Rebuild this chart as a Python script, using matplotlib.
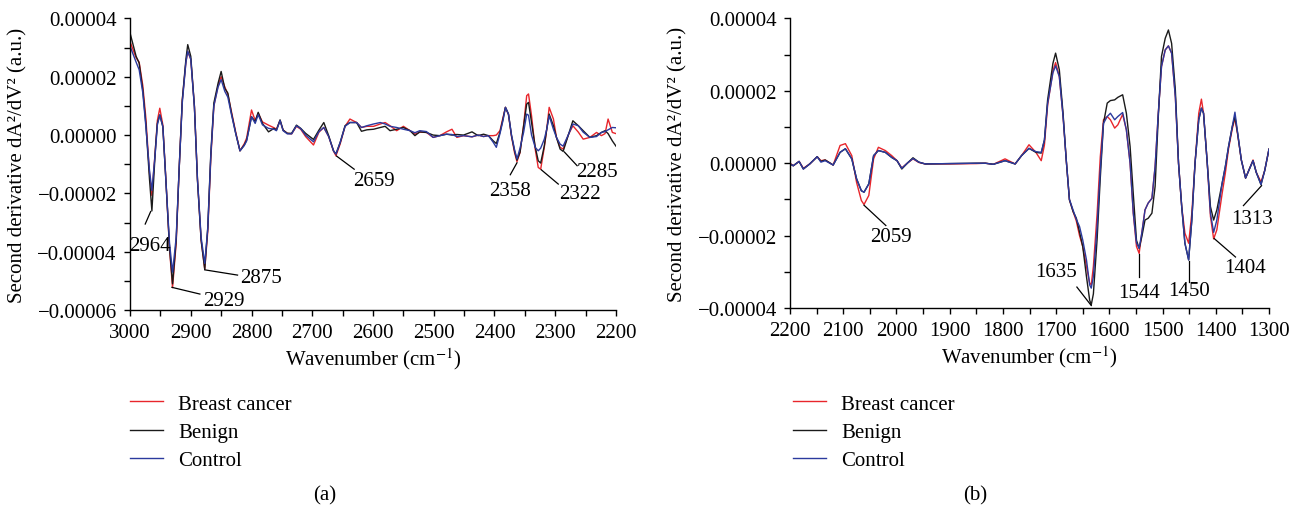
import matplotlib
matplotlib.use("Agg")
import matplotlib.pyplot as plt
from matplotlib.ticker import MultipleLocator, FuncFormatter

plt.rcParams['font.family'] = ['Liberation Serif', 'DejaVu Serif']
plt.rcParams['mathtext.fontset'] = 'stix'
plt.rcParams['font.size'] = 15

# second derivative values, in units of 1e-5
# (a) 3000-2200 cm-1
wn_a = [3000, 2990, 2985, 2979, 2974, 2968, 2964, 2958, 2955, 2951, 2946, 2941, 2935, 2930,
        2924, 2919, 2914, 2908, 2905, 2900, 2894, 2889, 2883, 2877, 2872, 2867, 2862, 2855,
        2850, 2844, 2839, 2833, 2826, 2819, 2812, 2808, 2800, 2794, 2789, 2782, 2772, 2763,
        2759, 2753, 2748, 2741, 2734, 2726, 2719, 2711, 2698, 2689, 2681, 2673, 2665, 2661,
        2654, 2646, 2638, 2627, 2619, 2610, 2599, 2588, 2580, 2572, 2561, 2550, 2539, 2531,
        2523, 2512, 2501, 2490, 2479, 2470, 2462, 2451, 2437, 2427, 2418, 2410, 2402, 2397,
        2391, 2386, 2382, 2377, 2372, 2367, 2363, 2358, 2352, 2347, 2344, 2339, 2333, 2328,
        2324, 2318, 2314, 2310, 2303, 2298, 2292, 2287, 2278, 2271, 2262, 2254, 2243, 2232,
        2224, 2218, 2213, 2206, 2200]
benign_a = [3.5, 2.7, 2.47, 1.55, 0.4, -1.5, -2.6, -0.4, 0.4, 0.69, 0.29, -1.55, -3.85, -5.1,
            -3.6, -1.1, 1.2, 2.6, 3.1, 2.7, 0.98, -1.55, -3.6, -4.6, -3.16, -0.63, 1.1, 1.78,
            2.18, 1.6, 1.44, 0.75, 0.06, -0.54, -0.34, -0.17, 0.63, 0.46, 0.78, 0.4, 0.11, 0.23,
            0.17, 0.52, 0.17, 0.06, 0.06, 0.34, 0.23, 0.06, -0.15, 0.17, 0.43, -0.02, -0.54, -0.65,
            -0.25, 0.32, 0.43, 0.43, 0.13, 0.18, 0.2, 0.26, 0.3, 0.15, 0.2, 0.26, 0.15, -0.02,
            0.11, 0.09, 0.0, -0.02, 0.03, 0.0, 0.02, 0.0, 0.11, -0.02, 0.03, -0.02, -0.2, -0.29,
            0.09, 0.55, 0.95, 0.72, -0.02, -0.54, -0.86, -0.59, 0.32, 1.06, 1.12, 0.43, -0.4, -0.88,
            -0.96, -0.37, 0.2, 0.72, 0.32, -0.08, -0.48, -0.56, 0.03, 0.49, 0.32, 0.15, -0.08, -0.02,
            0.09, 0.15, 0.05, -0.2, -0.38]
cancer_a = [3.2, 2.65, 2.5, 1.7, 0.6, -1.3, -2.07, -0.4, 0.5, 0.92, 0.35, -1.5, -3.9, -5.23,
            -3.7, -1.1, 1.2, 2.5, 2.87, 2.6, 1.0, -1.5, -3.6, -4.6, -3.3, -0.8, 1.0, 1.7,
            2.0, 1.65, 1.4, 0.8, 0.1, -0.54, -0.3, -0.1, 0.86, 0.5, 0.75, 0.45, 0.34, 0.25,
            0.2, 0.5, 0.17, 0.06, 0.04, 0.3, 0.2, -0.05, -0.34, 0.1, 0.26, -0.05, -0.55, -0.71,
            -0.3, 0.3, 0.55, 0.43, 0.26, 0.3, 0.3, 0.38, 0.43, 0.32, 0.15, 0.3, 0.15, 0.03,
            0.1, 0.09, -0.08, -0.02, 0.11, 0.2, -0.08, -0.02, -0.06, 0.0, -0.05, -0.02, -0.02, 0.0,
            0.15, 0.6, 0.95, 0.7, -0.05, -0.6, -0.91, -0.6, 0.35, 1.35, 1.41, 0.66, -0.48, -1.11,
            -1.17, -0.42, 0.2, 0.95, 0.55, -0.08, -0.42, -0.48, 0.03, 0.32, 0.1, -0.14, -0.08, 0.09,
            -0.02, 0.05, 0.55, 0.09, 0.05]
control_a = [3.05, 2.5, 2.24, 1.45, 0.3, -1.2, -1.9, -0.5, 0.35, 0.69, 0.29, -1.55, -3.7, -4.7,
             -3.5, -1.1, 1.1, 2.5, 2.87, 2.6, 0.95, -1.5, -3.5, -4.4, -3.2, -0.7, 1.0, 1.65,
             1.9, 1.5, 1.3, 0.7, 0.05, -0.54, -0.36, -0.2, 0.63, 0.4, 0.7, 0.35, 0.23, 0.2,
             0.15, 0.5, 0.15, 0.04, 0.04, 0.32, 0.22, 0.0, -0.23, 0.12, 0.26, -0.05, -0.54, -0.65,
             -0.25, 0.3, 0.43, 0.43, 0.26, 0.32, 0.38, 0.43, 0.38, 0.3, 0.26, 0.2, 0.15, 0.08,
             0.15, 0.12, -0.08, -0.02, 0.03, 0.02, -0.05, -0.02, -0.06, 0.0, -0.05, -0.02, -0.25, -0.42,
             0.05, 0.5, 0.95, 0.72, 0.0, -0.5, -0.82, -0.45, 0.1, 0.72, 0.68, 0.0, -0.42, -0.54,
             -0.45, -0.14, 0.2, 0.66, 0.2, -0.08, -0.31, -0.38, 0.03, 0.38, 0.32, 0.1, -0.08, -0.05,
             0.09, 0.12, 0.18, 0.26, 0.25]

# (b) 2200-1300 cm-1
wn_b = [2200, 2194, 2183, 2175, 2163, 2149, 2142, 2134, 2119, 2106, 2096, 2084, 2075, 2066,
        2061, 2052, 2043, 2034, 2021, 2009, 1999, 1990, 1979, 1969, 1958, 1946, 1900, 1850,
        1833, 1818, 1796, 1777, 1765, 1751, 1738, 1728, 1722, 1716, 1706, 1701, 1694, 1687,
        1681, 1675, 1668, 1662, 1656, 1650, 1643, 1637, 1634, 1630, 1623, 1617, 1611, 1604,
        1598, 1590, 1584, 1575, 1568, 1561, 1555, 1549, 1544, 1539, 1533, 1527, 1520, 1514,
        1508, 1502, 1495, 1489, 1483, 1476, 1470, 1464, 1458, 1451, 1445, 1439, 1432, 1427,
        1423, 1416, 1410, 1404, 1398, 1388, 1382, 1376, 1369, 1364, 1359, 1352, 1344, 1338,
        1330, 1324, 1315, 1308, 1300]
benign_b = [-0.02, -0.07, 0.05, -0.16, -0.02, 0.18, 0.05, 0.09, -0.05, 0.3, 0.4, 0.12, -0.43, -0.76,
            -0.8, -0.57, 0.21, 0.35, 0.3, 0.16, 0.07, -0.16, 0.01, 0.15, 0.03, -0.02, -0.01, 0.0,
            0.0, -0.03, 0.07, -0.02, 0.21, 0.41, 0.3, 0.28, 0.64, 1.75, 2.76, 3.04, 2.58, 1.38,
            0.09, -1.01, -1.34, -1.52, -1.9, -2.3, -3.13, -3.78, -3.91, -3.61, -2.1, -0.4, 1.1, 1.66,
            1.73, 1.75, 1.82, 1.89, 1.38, 0.46, -0.85, -2.13, -2.35, -2.03, -1.57, -1.52, -1.38, -0.64,
            1.29, 2.95, 3.45, 3.68, 3.31, 2.03, 0.0, -1.2, -2.21, -2.67, -1.57, 0.0, 1.2, 1.52,
            1.38, 0.0, -1.2, -1.57, -1.29, -0.55, -0.09, 0.46, 1.01, 1.29, 0.83, 0.09, -0.41, -0.2,
            0.07, -0.25, -0.59, -0.2, 0.39]
cancer_b = [0.0, -0.07, 0.05, -0.14, -0.02, 0.18, 0.07, 0.09, -0.05, 0.49, 0.54, 0.21, -0.53, -1.03,
            -1.14, -0.89, 0.12, 0.44, 0.35, 0.21, 0.07, -0.13, 0.01, 0.12, 0.02, -0.02, -0.02, -0.01,
            0.0, -0.03, 0.12, -0.02, 0.21, 0.51, 0.3, 0.07, 0.5, 1.6, 2.55, 2.78, 2.39, 1.3,
            0.09, -1.01, -1.34, -1.6, -2.0, -2.3, -2.85, -3.31, -3.36, -2.85, -1.4, 0.18, 1.2, 1.29,
            1.2, 0.97, 1.06, 1.35, 0.92, 0.0, -1.38, -2.3, -2.49, -1.93, -1.29, -1.1, -0.97, -0.09,
            1.38, 2.67, 3.13, 3.24, 3.04, 1.84, 0.0, -1.2, -1.93, -2.21, -1.38, 0.0, 1.38, 1.77,
            1.38, 0.0, -1.47, -2.09, -1.84, -0.83, -0.27, 0.4, 0.95, 1.24, 0.8, 0.09, -0.41, -0.2,
            0.09, -0.25, -0.52, -0.2, 0.39]
control_b = [-0.02, -0.07, 0.05, -0.16, -0.02, 0.18, 0.03, 0.07, -0.05, 0.3, 0.4, 0.12, -0.43, -0.76,
             -0.8, -0.57, 0.21, 0.35, 0.3, 0.16, 0.07, -0.14, 0.01, 0.13, 0.03, -0.02, -0.01, 0.0,
             0.0, -0.03, 0.07, -0.02, 0.21, 0.41, 0.32, 0.3, 0.64, 1.65, 2.5, 2.69, 2.39, 1.3,
             0.09, -1.0, -1.3, -1.55, -1.75, -2.12, -2.67, -3.36, -3.45, -3.13, -1.75, -0.18, 1.1, 1.29,
             1.38, 1.2, 1.29, 1.4, 0.92, 0.0, -1.38, -2.2, -2.35, -1.93, -1.29, -1.1, -0.97, -0.09,
             1.38, 2.67, 3.13, 3.24, 3.04, 1.84, 0.0, -1.2, -2.21, -2.67, -1.57, 0.0, 1.2, 1.52,
             1.38, 0.0, -1.38, -1.91, -1.57, -0.55, -0.09, 0.46, 1.01, 1.41, 0.85, 0.09, -0.41, -0.2,
             0.07, -0.25, -0.59, -0.2, 0.39]

# peak labels: text, peak (x, y), line end (x, y), text position (x, y)
labels_a = [("2964", 2966, -2.62, 2975, -3.05, 2967, -3.8),
            ("2929", 2931, -5.22, 2885, -5.45, 2846, -5.68),
            ("2875", 2877, -4.62, 2823, -4.8, 2785, -4.88),
            ("2659", 2660, -0.72, 2631, -1.17, 2599, -1.57),
            ("2358", 2363, -0.95, 2374, -1.36, 2374, -1.91),
            ("2322", 2323, -1.19, 2295, -1.68, 2259, -2.0),
            ("2285", 2285, -0.58, 2264, -1.05, 2231, -1.26)]
labels_b = [("2059", 2061, -1.16, 2020, -1.72, 2010, -2.02),
            ("1635", 1634, -3.93, 1661, -3.42, 1700, -3.0),
            ("1544", 1545, -2.5, 1545, -3.14, 1544, -3.56),
            ("1450", 1451, -2.7, 1451, -3.28, 1450, -3.51),
            ("1404", 1403, -2.08, 1363, -2.59, 1345, -2.87),
            ("1313", 1314, -0.62, 1348, -1.17, 1331, -1.52)]

series = ["Breast cancer", "Benign", "Control"]
colors = ["#e8252b", "#1a1a1a", "#2b3a9e"]
scale = 1e-5

fig = plt.figure(figsize=(12.99, 5.10), dpi=100)
ax1 = fig.add_axes([0.1001, 0.390, 0.3741, 0.572])
ax2 = fig.add_axes([0.6082, 0.394, 0.3687, 0.568])


def fmt(v, pos):
    if abs(v) < 1e-9:
        return "0.00000"
    return f"{v:.5f}".replace("-", "\u2212")


def style(ax, xlim, ylim):
    ax.set_xlim(*xlim)
    ax.set_ylim(*ylim)
    for s in ["top", "right"]:
        ax.spines[s].set_visible(False)
    for s in ["left", "bottom"]:
        ax.spines[s].set_linewidth(1.0)
    ax.xaxis.set_major_locator(MultipleLocator(100))
    ax.xaxis.set_minor_locator(MultipleLocator(50))
    ax.yaxis.set_major_locator(MultipleLocator(2e-5))
    ax.yaxis.set_minor_locator(MultipleLocator(1e-5))
    ax.yaxis.set_major_formatter(FuncFormatter(fmt))
    ax.tick_params(which="major", direction="out", length=4.5, width=1.0, pad=5, labelsize=15)
    ax.tick_params(which="minor", direction="out", length=4, width=1.0)
    ax.set_xlabel(r"Wavenumber (cm$^{-1}$)", fontsize=15, labelpad=2)
    ax.set_ylabel("Second derivative dA²/dV² (a.u.)", fontsize=15)


for ax, wn, data, labels in [(ax1, wn_a, [cancer_a, benign_a, control_a], labels_a),
                             (ax2, wn_b, [cancer_b, benign_b, control_b], labels_b)]:
    for name, vals, c in zip(series, data, colors):
        ax.plot(wn, [v * scale for v in vals], color=c, lw=1.0, label=name)
    for txt, px, py, lx, ly, tx, ty in labels:
        ax.plot([px, lx], [py * scale, ly * scale], color="black", lw=0.9)
        ax.text(tx, ty * scale, txt, ha="center", va="center", fontsize=15)

style(ax1, (3000, 2200), (-6e-5, 4e-5))
style(ax2, (2200, 1300), (-4e-5, 4e-5))
ax1.yaxis.set_label_coords(-0.212, 0.5)
ax2.yaxis.set_label_coords(-0.214, 0.5)

handles, names = ax1.get_legend_handles_labels()
for x0 in [130 / 1299, 793 / 1299]:
    fig.legend(handles, names, loc="upper left", bbox_to_anchor=(x0, 1 - 395 / 510),
               frameon=False, fontsize=15, handlelength=1.6, handletextpad=0.72,
               labelspacing=0.42, borderpad=0, borderaxespad=0)

fig.text(325 / 1299, 1 - 496 / 510, "(a)", ha="center", va="center", fontsize=15)
fig.text(975 / 1299, 1 - 496 / 510, "(b)", ha="center", va="center", fontsize=15)

fig.savefig("out.png", dpi=100)
